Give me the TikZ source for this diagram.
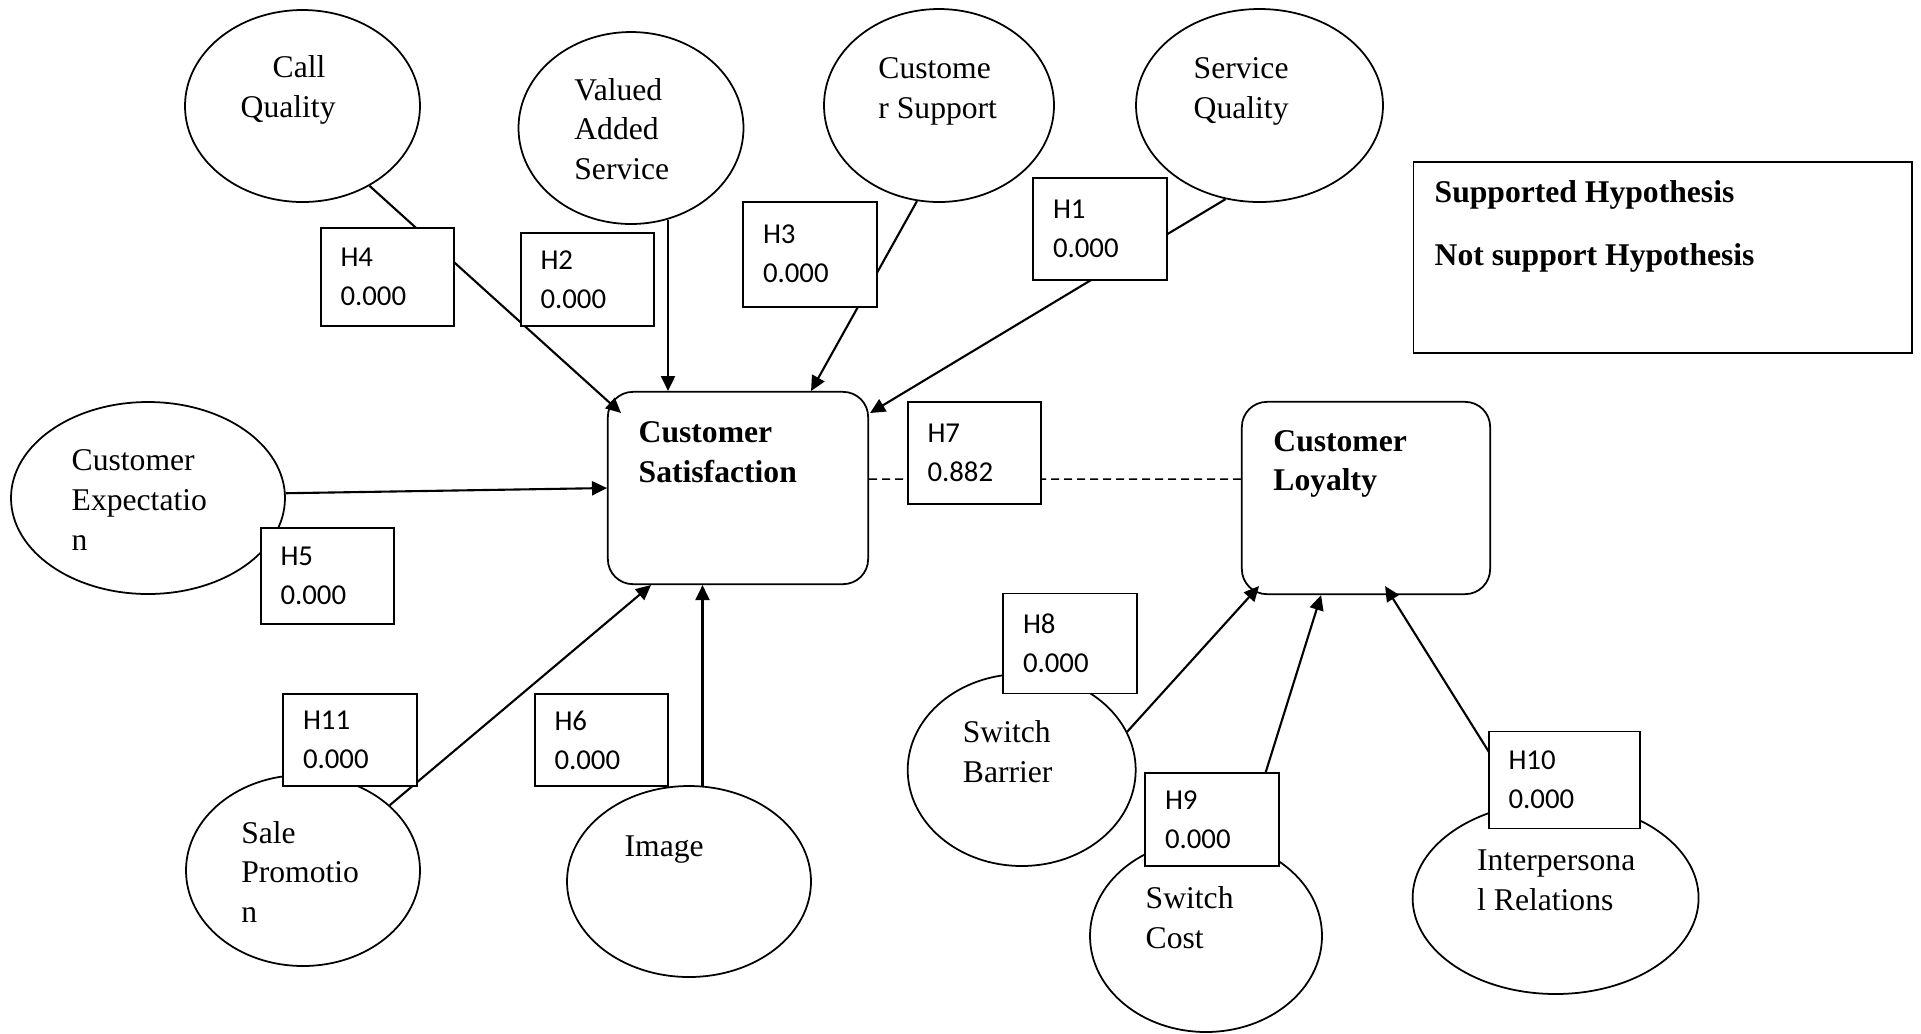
\documentclass[tikz,border=0pt]{standalone}
\usepackage{fontspec}
\setmainfont{Liberation Serif}
\newfontfamily\hfont{Carlito}
\usetikzlibrary{positioning,calc,arrows.meta,shapes.geometric}

\begin{document}
\begin{tikzpicture}[scale=0.1,
		blob/.style={draw, ellipse, line width=0.5pt, inner sep=0pt},
		core/.style={draw, rectangle, rounded corners=0.25cm, line width=0.5pt, inner sep=0pt},
		hbox/.style={draw, fill=white, line width=0.5pt, font=\hfont\fontsize{8.2}{11.1}\selectfont, align=left, text width=0.94cm, inner xsep=0.197cm, inner ysep=0pt, minimum height=0.95cm},
		txt/.style={font=\fontsize{9}{11.3}\selectfont, align=left, inner sep=0pt, anchor=west},
		btxt/.style={txt, font=\fontsize{9}{11.3}\selectfont\bfseries},
		arr/.style={-{Triangle[length=0.15cm, width=0.14cm]}, line width=0.6pt}]
		\useasboundingbox (0,0) rectangle (192.1,-103.3);
		% constructs
		\node[blob, minimum width=2.35cm, minimum height=1.92cm] (cq) at (30.25,-10.6) {};
		\node[blob, minimum width=2.25cm, minimum height=1.92cm] (va) at (63.1,-12.8) {};
		\node[blob, minimum width=2.30cm, minimum height=1.93cm] (cu) at (93.9,-10.55) {};
		\node[blob, minimum width=2.47cm, minimum height=1.93cm] (sq) at (125.95,-10.55) {};
		\node[blob, minimum width=2.74cm, minimum height=1.92cm] (ce) at (14.8,-49.8) {};
		\node[blob, minimum width=2.34cm, minimum height=1.91cm] (sp) at (30.3,-87.05) {};
		\node[blob, minimum width=2.44cm, minimum height=1.91cm] (im) at (68.9,-88.15) {};
		\node[blob, minimum width=2.28cm, minimum height=1.92cm] (sb) at (102.17,-77.0) {};
		\node[blob, minimum width=2.32cm, minimum height=1.92cm] (sc) at (120.6,-93.6) {};
		\node[blob, minimum width=2.86cm, minimum height=1.92cm] (ir) at (155.56,-89.8) {};
		\node[core, minimum width=2.603cm, minimum height=1.923cm] (cs) at (73.8,-48.8) {};
		\node[core, minimum width=2.483cm, minimum height=1.923cm] (cl) at (136.6,-49.8) {};
		\node[draw, line width=0.5pt, minimum width=4.987cm, minimum height=1.913cm] (key) at (166.27,-25.74) {};
		% texts
		\node[txt] (cqt) at (24.0,-9.0) {\hspace*{0.32cm}Call\\Quality};
		\node[txt] (vat) at (57.37,-12.9) {Valued\\Added\\Service};
		\node[txt] (cut) at (87.77,-9.15) {Custome\\r Support};
		\node[txt] (sqt) at (119.3,-9.15) {Service\\Quality};
		\node[txt] (cet) at (7.1,-50.0) {Customer\\Expectatio\\n};
		\node[txt] (spt) at (24.06,-87.2) {Sale\\Promotio\\n};
		\node[txt] (imt) at (62.4,-84.95) {Image};
		\node[txt] (sbt) at (96.22,-75.15) {Switch\\Barrier};
		\node[txt] (sct) at (114.5,-91.8) {Switch\\Cost};
		\node[txt] (irt) at (147.65,-88.0) {Interpersona\\l Relations};
		\node[btxt] (cst) at (63.8,-45.2) {Customer\\Satisfaction};
		\node[btxt] (clt) at (127.27,-46.4) {Customer\\Loyalty};
		\node[btxt, anchor=base west] (sup) at (143.4,-20.2) {Supported Hypothesis};
		\node[btxt, anchor=base west] (nsup) at (143.4,-26.55) {Not support Hypothesis};
		% paths
		\draw[arr] (cq.-50) -- ($(cs.north west)+(1.4,-2.2)$);
		\draw[arr] (va.-68) -- (va.-68 |- cs.north);
		\draw[arr] (cu.-103) -- ($(cs.north)+(7.3,0)$);
		\draw[arr] (sq.-110) -- ($(cs.north east)+(0.1,-2.2)$);
		\draw[arr] (ce.2) -- (cs.west);
		\draw[arr] (sp.37) -- ($(cs.south west)+(4.4,0)$);
		\draw[arr] (im.82) -- (im.82 |- cs.south);
		\draw[line width=0.45pt, dash pattern=on 0.08cm off 0.05cm] ($(cs.east)+(0,0.9)$) -- ($(cl.west)+(0,1.9)$);
		\draw[arr] (sb.20) -- ($(cl.south west)+(1.8,0.9)$);
		\draw[arr] (sc.68) -- ($(cl.south)+(-4.5,0)$);
		\draw[arr] (ir.110) -- ($(cl.south)+(1.9,0.9)$);
		% hypotheses
		\node[hbox, minimum height=1.02cm] (h1) at (110.0,-22.9) {H1\\0.000};
		\node[hbox, minimum height=0.93cm] (h2) at (58.75,-27.95) {H2\\0.000};
		\node[hbox, minimum height=1.05cm] (h3) at (81.0,-25.42) {H3\\0.000};
		\node[hbox, minimum height=0.98cm] (h4) at (38.75,-27.7) {H4\\0.000};
		\node[hbox, minimum height=0.96cm] (h5) at (32.75,-57.6) {H5\\0.000};
		\node[hbox, minimum height=0.92cm] (h6) at (60.15,-74.0) {H6\\0.000};
		\node[hbox, minimum height=1.02cm] (h7) at (97.45,-45.3) {H7\\0.882};
		\node[hbox, minimum height=1.0cm] (h8) at (107.0,-64.35) {H8\\0.000};
		\node[hbox, minimum height=0.93cm] (h9) at (121.2,-81.95) {H9\\0.000};
		\node[hbox, minimum height=0.97cm, text width=1.12cm] (h10) at (156.45,-78.0) {H10\\0.000};
		\node[hbox, minimum height=0.92cm] (h11) at (35.0,-74.0) {H11\\0.000};
	\end{tikzpicture}
\end{document}
